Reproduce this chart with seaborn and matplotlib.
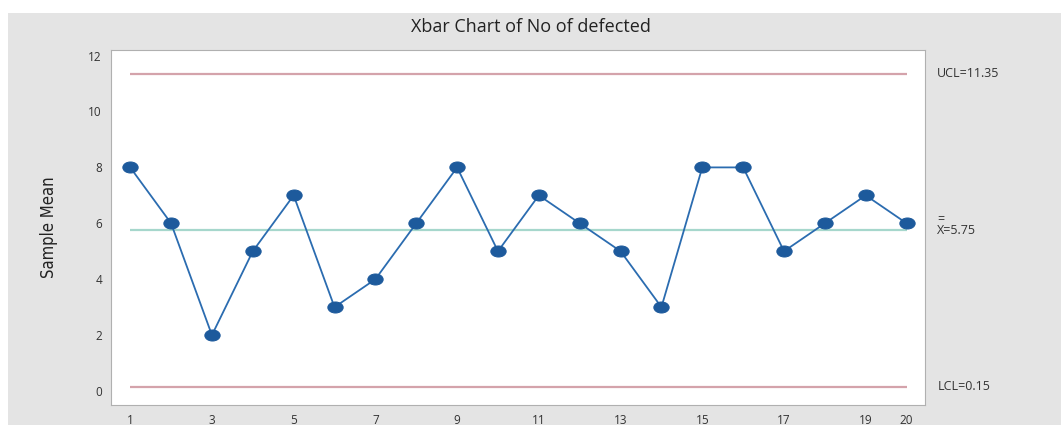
import matplotlib
matplotlib.use("Agg")
import matplotlib.pyplot as plt
import matplotlib.patches as patches
from matplotlib.path import Path
from matplotlib.transforms import Affine2D
import numpy as np
import pandas as pd
import seaborn as sns

samples = list(range(1, 21))
sample_means = [8, 6, 2, 5, 7, 3, 4, 6, 8, 5, 7, 6, 5, 3, 8, 8, 5, 6, 7, 6]
ucl = 11.35
center = 5.75
lcl = 0.15
x_ticks = [1, 3, 5, 7, 9, 11, 13, 15, 17, 19, 20]
y_ticks = [0, 2, 4, 6, 8, 10, 12]

df = pd.DataFrame({"Sample": samples, "Mean": sample_means})

sns.set_style("white")
plt.rcParams["font.family"] = ["Open Sans", "DejaVu Sans"]

# flattened dot, like the minitab marker
flat_dot = Path.unit_circle().transformed(Affine2D().scale(1.0, 0.72))

fig = plt.figure(figsize=(10.61, 4.25), dpi=100)
fig.patch.set_facecolor("white")
fig.patches.append(patches.Rectangle((8 / 1061, 0), 1, (425 - 13) / 425,
                                     transform=fig.transFigure, facecolor="#e4e4e4",
                                     edgecolor="none", zorder=-10))

ax = fig.add_axes([111 / 1061, (425 - 405) / 425, (925 - 111) / 1061, (405 - 50) / 425])
ax.set_facecolor("white")

ax.hlines(ucl, 1, 20, color="#d4a3ab", lw=1.6)
ax.hlines(lcl, 1, 20, color="#d4a3ab", lw=1.6)
ax.hlines(center, 1, 20, color="#a6d7cc", lw=1.6)

sns.lineplot(data=df, x="Sample", y="Mean", ax=ax, color="#2b6cb0", lw=1.3,
             marker=flat_dot, markersize=11, markerfacecolor="#1d5a9c",
             markeredgecolor="#1d5a9c")

ax.set_xlim(0.53, 20.45)
ax.set_ylim(-0.5, 12.2)
ax.set_xticks(x_ticks)
ax.set_yticks(y_ticks)
ax.tick_params(axis="both", labelsize=8.5, colors="#333333", length=3, color="#999999")
ax.set_xlabel("")
ax.set_ylabel("Sample Mean", fontsize=12, color="#222222", labelpad=22,
              family="DejaVu Sans", fontstretch="condensed")
for s in ax.spines.values():
    s.set_color("#b0b0b0")
    s.set_linewidth(0.8)

ax.text(20.75, ucl, "UCL=11.35", fontsize=9, color="#333333", va="center", ha="left")
ax.text(20.75, center + 0.2, "=\nX=5.75", fontsize=9, color="#333333", va="center",
        ha="left", linespacing=0.8)
ax.text(20.75, lcl, "LCL=0.15", fontsize=9, color="#333333", va="center", ha="left")

fig.text(0.5, 1 - 27 / 425, "Xbar Chart of No of defected", ha="center", va="center",
         fontsize=13, color="#222222")

fig.savefig("out.png", dpi=100)
